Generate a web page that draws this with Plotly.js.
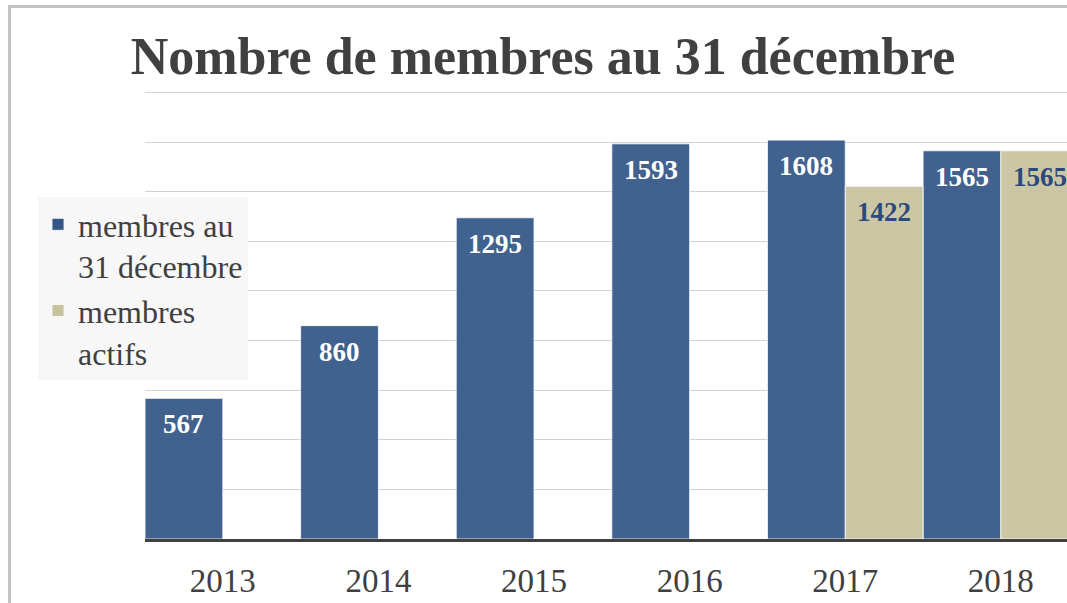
<!DOCTYPE html>
<html>
<head>
<meta charset="utf-8">
<script src="https://cdn.plot.ly/plotly-3.0.1.min.js"></script>
<style>
  html, body { margin: 0; padding: 0; background: #ffffff; }
  #chart { width: 1067px; height: 603px; }
  #frame { position: absolute; left: 8px; top: 5px; width: 1100px; height: 640px;
           border-top: 3px solid #c4c4c4; border-left: 3px solid #c4c4c4; pointer-events: none; }
</style>
</head>
<body>
<div id="chart"></div>
<div id="frame"></div>
<script>
const years = ['2013', '2014', '2015', '2016', '2017', '2018'];
const membersDec31 = [567, 860, 1295, 1593, 1608, 1565];
const membersActive = [null, null, null, null, 1422, 1565];
const seriesNames = ['membres au<br>31 décembre', 'membres<br>actifs'];

const FONT = 'Liberation Serif, Times New Roman, serif';
const blue = 'rgb(51,86,135)';
const beige = 'rgb(200,195,159)';

const traces = [
  { type: 'bar', name: seriesNames[0], x: years, y: membersDec31,
    marker: { color: blue, opacity: 0.93, line: { color: 'rgba(255,255,255,0.8)', width: 1 } },
    hoverinfo: 'skip' },
  { type: 'bar', name: seriesNames[1], x: years, y: membersActive,
    marker: { color: beige, opacity: 0.93, line: { color: 'rgba(255,255,255,0.8)', width: 1 } },
    hoverinfo: 'skip' }
];

const halfBar = 38.9;
const annotations = [];
years.forEach((yr, i) => {
  if (membersDec31[i] != null) {
    annotations.push({ x: i, y: membersDec31[i], xref: 'x', yref: 'y', text: '<b>' + membersDec31[i] + '</b>',
      showarrow: false, xshift: -halfBar, yshift: -26,
      font: { family: FONT, size: 27, color: '#ffffff' } });
  }
  if (membersActive[i] != null) {
    annotations.push({ x: i, y: membersActive[i], xref: 'x', yref: 'y', text: '<b>' + membersActive[i] + '</b>',
      showarrow: false, xshift: halfBar, yshift: -26,
      font: { family: FONT, size: 27, color: '#2b4a7b' } });
  }
});

const layout = {
  width: 1067, height: 603,
  paper_bgcolor: 'rgba(0,0,0,0)', plot_bgcolor: 'rgba(0,0,0,0)',
  margin: { l: 145, r: 0, t: 90, b: 64, autoexpand: false },
  barmode: 'group', bargap: 0, bargroupgap: 0,
  title: { text: '<b>Nombre de membres au 31 décembre</b>',
    font: { family: FONT, size: 52, color: '#404040' },
    x: 543 / 1067, xref: 'container', xanchor: 'center',
    y: 1 - 56 / 603, yref: 'container', yanchor: 'middle' },
  xaxis: { type: 'category', range: [-0.5, 5.425], showgrid: false,
    showline: true, linecolor: '#404040', linewidth: 3,
    ticks: 'outside', ticklen: 10, tickcolor: 'rgba(0,0,0,0)',
    tickfont: { family: FONT, size: 33, color: '#404040' } },
  yaxis: { range: [0, 1810], dtick: 200, showticklabels: false, zeroline: false,
    gridcolor: '#d2d2d2', gridwidth: 1, showline: false },
  showlegend: true,
  legend: { x: (38 - 145) / 922, y: (539 - 197) / 449,
    xanchor: 'left', yanchor: 'top', bgcolor: '#f7f7f7', borderwidth: 0,
    valign: 'top', tracegroupgap: 2, entrywidth: 180, entrywidthmode: 'pixels',
    font: { family: FONT, size: 32, color: '#404040' } },
  annotations: annotations
};

Plotly.newPlot('chart', traces, layout, { displayModeBar: false, staticPlot: true });
</script>
</body>
</html>
